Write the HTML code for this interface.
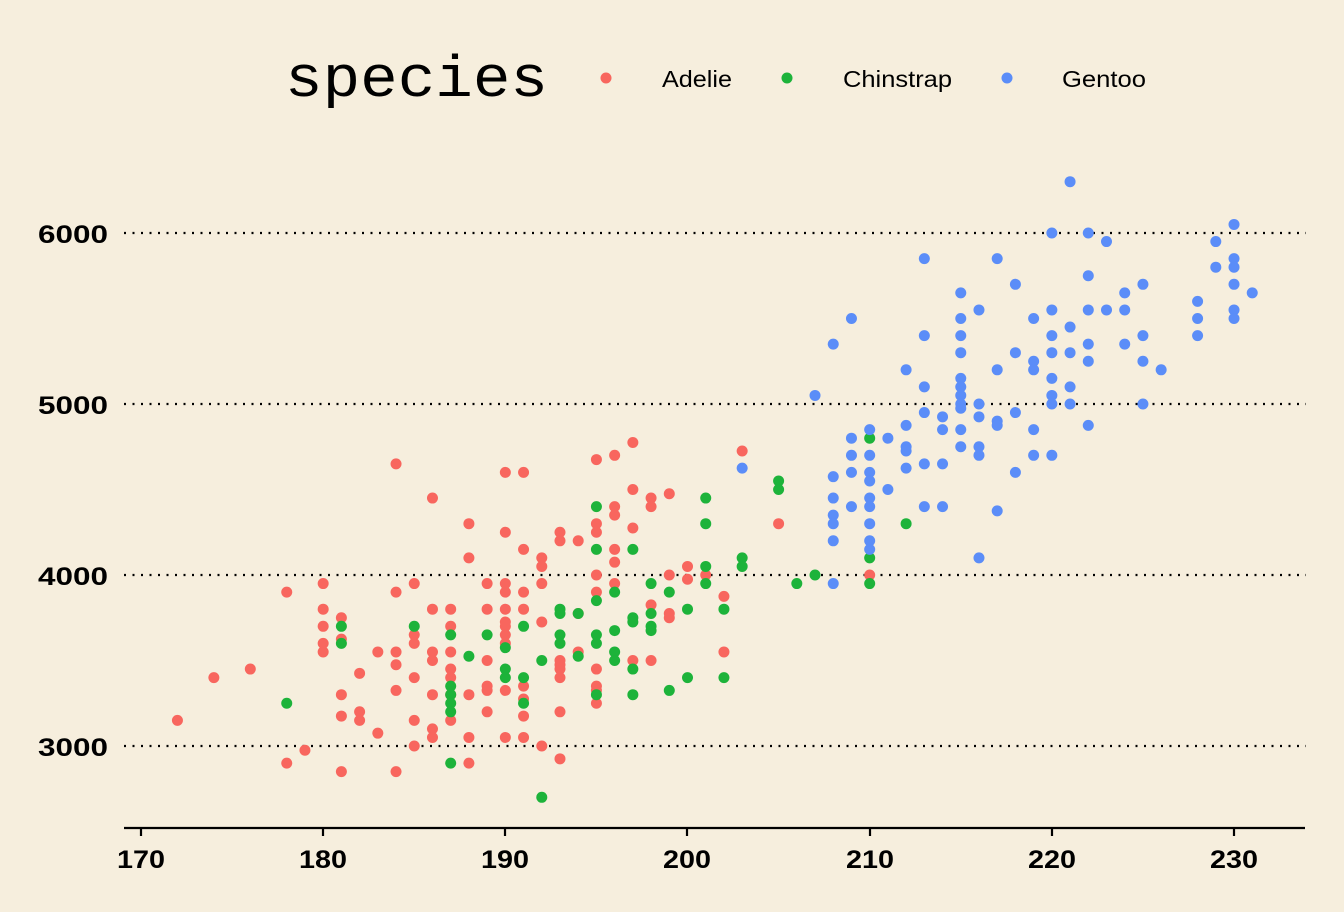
<!DOCTYPE html>
<html><head><meta charset="utf-8"><style>
html,body{margin:0;padding:0;background:#F6EEDD;}
svg{display:block;}
</style></head><body>
<svg id="s" width="1344" height="912" viewBox="0 0 1344 912" xmlns="http://www.w3.org/2000/svg" font-family="Liberation Sans, sans-serif">
<rect width="1344" height="912" fill="#F6EEDD"/>
<g stroke="#000" stroke-width="2.2" stroke-dasharray="2,6.5">
<line x1="124" x2="1306" y1="233" y2="233"/>
<line x1="124" x2="1306" y1="404" y2="404"/>
<line x1="124" x2="1306" y1="575" y2="575"/>
<line x1="124" x2="1306" y1="746" y2="746"/>
</g>
<g font-size="25" font-weight="bold" fill="#000">
<text x="38" y="243" textLength="70" lengthAdjust="spacingAndGlyphs">6000</text>
<text x="38" y="414" textLength="70" lengthAdjust="spacingAndGlyphs">5000</text>
<text x="38" y="585" textLength="70" lengthAdjust="spacingAndGlyphs">4000</text>
<text x="38" y="756" textLength="70" lengthAdjust="spacingAndGlyphs">3000</text>
</g>
<line x1="124" x2="1305" y1="828" y2="828" stroke="#000" stroke-width="2.2"/>
<g stroke="#000" stroke-width="2.2">
<line x1="141" x2="141" y1="828" y2="836"/><line x1="323" x2="323" y1="828" y2="836"/>
<line x1="505" x2="505" y1="828" y2="836"/><line x1="687" x2="687" y1="828" y2="836"/>
<line x1="870" x2="870" y1="828" y2="836"/><line x1="1052" x2="1052" y1="828" y2="836"/>
<line x1="1234" x2="1234" y1="828" y2="836"/>
</g>
<g font-size="25" font-weight="bold" fill="#000">
<text x="117" y="868" textLength="48" lengthAdjust="spacingAndGlyphs">170</text>
<text x="299" y="868" textLength="48" lengthAdjust="spacingAndGlyphs">180</text>
<text x="481" y="868" textLength="48" lengthAdjust="spacingAndGlyphs">190</text>
<text x="663" y="868" textLength="48" lengthAdjust="spacingAndGlyphs">200</text>
<text x="846" y="868" textLength="48" lengthAdjust="spacingAndGlyphs">210</text>
<text x="1028" y="868" textLength="48" lengthAdjust="spacingAndGlyphs">220</text>
<text x="1210" y="868" textLength="48" lengthAdjust="spacingAndGlyphs">230</text>
</g>
<text x="285" y="96" style="font-family:'Liberation Mono',monospace" font-size="58" fill="#000" textLength="263" lengthAdjust="spacingAndGlyphs">species</text>
<circle cx="606" cy="78" r="5.5" fill="#F8665E"/>
<circle cx="787" cy="78" r="5.5" fill="#1DB33A"/>
<circle cx="1007" cy="78" r="5.5" fill="#5B8DF8"/>
<g font-size="23" fill="#000">
<text x="662" y="87" textLength="70" lengthAdjust="spacingAndGlyphs">Adelie</text>
<text x="843" y="87" textLength="109" lengthAdjust="spacingAndGlyphs">Chinstrap</text>
<text x="1062" y="87" textLength="84" lengthAdjust="spacingAndGlyphs">Gentoo</text>
</g>
<g id="pts"></g>
</svg>
<script>
var A=[172,3150,174,3400,176,3450,178,3900,178,2900,179,2975,180,3950,180,3800,180,3700,180,3600,180,3550,181,3750,181,3625,181,3300,181,3175,181,2850,182,3200,182,3150,182,3425,183,3550,183,3075,184,4650,184,3900,184,3550,184,3475,184,3325,184,2850,185,3950,185,3650,185,3600,185,3400,185,3150,185,3000,186,4450,186,3800,186,3550,186,3500,186,3300,186,3100,186,3050,187,3800,187,3700,187,3550,187,3450,187,3400,187,3300,187,3150,188,4300,188,4100,188,3300,188,3050,188,2900,189,3950,189,3800,189,3500,189,3350,189,3325,189,3200,190,4600,190,4250,190,3950,190,3900,190,3800,190,3725,190,3700,190,3650,190,3600,190,3325,190,3050,191,4600,191,4150,191,3900,191,3800,191,3350,191,3275,191,3175,191,3050,192,4100,192,4050,192,3950,192,3725,192,3000,193,4250,193,4200,193,3500,193,3475,193,3450,193,3400,193,3200,193,2925,194,4200,194,3775,194,3550,195,4675,195,4300,195,4250,195,4000,195,3900,195,3450,195,3350,195,3325,195,3250,196,4700,196,4400,196,4350,196,4150,196,4075,196,3950,197,4775,197,4500,197,4275,197,3500,198,4450,198,4400,198,3825,198,3500,199,4475,199,4000,199,3775,199,3750,200,4050,200,3975,201,4000,202,3875,202,3550,203,4725,205,4300,210,4000];
var C=[178,3250,181,3700,181,3600,185,3700,187,3650,187,3350,187,3300,187,3250,187,3200,187,2900,188,3525,189,3650,190,3450,190,3400,190,3575,191,3700,191,3400,191,3250,192,3500,192,2700,193,3800,193,3775,193,3650,193,3600,194,3775,194,3525,195,4400,195,4150,195,3850,195,3650,195,3600,195,3300,196,3900,196,3675,196,3550,196,3500,197,4150,197,3750,197,3725,197,3450,197,3300,198,3950,198,3775,198,3700,198,3675,199,3900,199,3325,200,3800,200,3400,201,4450,201,4300,201,4050,201,3950,202,3800,202,3400,203,4100,203,4050,205,4550,205,4500,206,3950,207,4000,210,4800,210,4100,210,3950,212,4300];
var G=[203,4625,207,5050,208,5350,208,4575,208,4450,208,4350,208,4300,208,4200,208,3950,209,5500,209,4800,209,4700,209,4600,209,4400,210,4850,210,4700,210,4600,210,4550,210,4450,210,4400,210,4300,210,4200,210,4150,211,4800,211,4500,212,5200,212,4875,212,4750,212,4725,212,4625,213,5850,213,5400,213,5100,213,4950,213,4650,213,4400,214,4925,214,4850,214,4650,214,4400,215,5650,215,5500,215,5400,215,5300,215,5150,215,5100,215,5050,215,5000,215,4975,215,4850,215,4750,216,5550,216,5000,216,4925,216,4750,216,4700,216,4100,217,5850,217,5200,217,4900,217,4875,217,4375,218,5700,218,5300,218,4950,218,4600,219,5500,219,5250,219,5200,219,4850,219,4700,220,6000,220,5550,220,5400,220,5300,220,5150,220,5050,220,5000,220,4700,221,6300,221,5450,221,5300,221,5100,221,5000,222,6000,222,5750,222,5550,222,5350,222,5250,222,4875,223,5950,223,5550,224,5650,224,5550,224,5350,225,5700,225,5400,225,5250,225,5000,226,5200,228,5600,228,5500,228,5400,229,5950,229,5800,230,6050,230,5850,230,5800,230,5700,230,5550,230,5500,231,5650];
var g=document.getElementById('pts'),ns='http://www.w3.org/2000/svg';
function draw(a,c){for(var i=0;i<a.length;i+=2){var e=document.createElementNS(ns,'circle');
e.setAttribute('cx',141+(a[i]-170)*18.217);e.setAttribute('cy',746-(a[i+1]-3000)*0.171);
e.setAttribute('r',5.5);e.setAttribute('fill',c);g.appendChild(e);}}
draw(A,'#F8665E');draw(C,'#1DB33A');draw(G,'#5B8DF8');
</script>
</body></html>
